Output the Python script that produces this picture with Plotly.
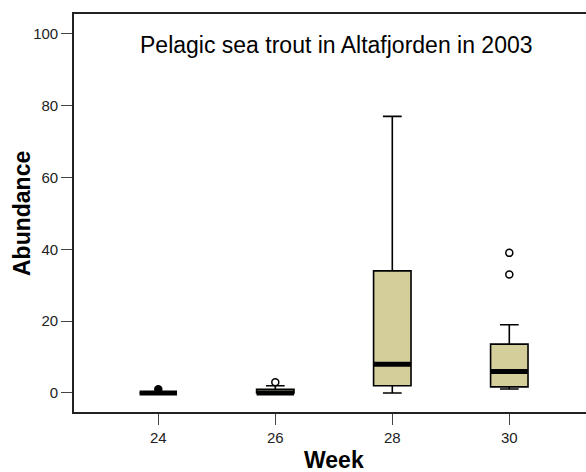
import plotly.graph_objects as go

# ---- data ----
weeks = [24, 26, 28, 30]
q1 = [0, 0, 2, 1.7]
median = [0, 0, 8, 6]
q3 = [0, 1, 34, 13.6]
lower_whisker = [0, 0, 0, 1.1]
upper_whisker = [0, 2, 77, 19]

outlier_weeks = [24, 26, 30, 30]
outlier_values = [1, 3, 33, 39]
outlier_symbols = ["circle", "circle-open", "circle-open", "circle-open"]

y_ticks = [0, 20, 40, 60, 80, 100]
title_text = "Pelagic sea trout in Altafjorden in 2003"
x_title = "Week"
y_title = "Abundance"

# ---- styling ----
FONT = "Liberation Sans, Arial, sans-serif"
FILL = "#D3CE9A"
BOX_W = 0.64

W, H = 600, 472
ML, MR, MT, MB = 74, 0, 14, 60
PW, PH = W - ML - MR, H - MT - MB
PX_PER_WEEK = 58.5
X0_PX = 158.3
x_range = [weeks[0] - (X0_PX - ML) / PX_PER_WEEK, weeks[0] + (W - X0_PX) / PX_PER_WEEK]

def px_to_paper_x(px):
    return (px - ML) / PW

def px_to_paper_y(py):
    return (H - MB - py) / PH

fig = go.Figure()
fig.add_trace(go.Box(
    x=weeks, q1=q1, median=median, q3=q3,
    lowerfence=lower_whisker, upperfence=upper_whisker,
    width=BOX_W, whiskerwidth=0.5,
    fillcolor=FILL, line=dict(color="black", width=1.6),
    boxpoints=False, showlegend=False, hoverinfo="skip",
))
mx, my = [], []
for w, m in zip(weeks, median):
    mx += [w - BOX_W / 2, w + BOX_W / 2, None]
    my += [m, m, None]
fig.add_trace(go.Scatter(x=mx, y=my, mode="lines", line=dict(color="black", width=5),
                         showlegend=False, hoverinfo="skip"))
fig.add_trace(go.Scatter(
    x=outlier_weeks, y=outlier_values, mode="markers",
    marker=dict(symbol=outlier_symbols, size=7, color="black", line=dict(width=1.5, color="black")),
    showlegend=False, hoverinfo="skip",
))

fig.update_layout(
    width=W, height=H,
    margin=dict(l=ML, r=MR, t=MT, b=MB, pad=0),
    paper_bgcolor="white", plot_bgcolor="white",
    font=dict(family=FONT, color="#222222", size=15),
    xaxis=dict(range=x_range, tickvals=weeks, ticktext=[str(w) for w in weeks],
               showline=True, linecolor="#222222", linewidth=1.6, mirror=True,
               ticks="outside", ticklen=11, tickcolor="#444444",
               showgrid=False, zeroline=False,
               tickfont=dict(size=15, family=FONT, color="#222222")),
    yaxis=dict(range=[-5.3, 105.5], tickvals=y_ticks,
               showline=True, linecolor="#222222", linewidth=1.6, mirror=False,
               ticks="outside", ticklen=11, tickcolor="#444444",
               showgrid=False, zeroline=False,
               tickfont=dict(size=15, family=FONT, color="#222222")),
    annotations=[
        dict(text=title_text, xref="paper", yref="paper",
             x=px_to_paper_x(336.5), y=px_to_paper_y(45.3),
             xanchor="center", yanchor="middle", showarrow=False,
             font=dict(size=23, family=FONT, color="black")),
        dict(text="<b>" + x_title + "</b>", xref="paper", yref="paper",
             x=px_to_paper_x(334), y=px_to_paper_y(460),
             xanchor="center", yanchor="middle", showarrow=False,
             font=dict(size=23, family=FONT, color="black")),
        dict(text="<b>" + y_title + "</b>", xref="paper", yref="paper",
             x=px_to_paper_x(22), y=px_to_paper_y(214),
             xanchor="center", yanchor="middle", showarrow=False, textangle=-90,
             font=dict(size=23, family=FONT, color="black")),
    ],
)

fig.write_html(
    "out.html",
    config={"displayModeBar": False},
    post_script="document.body.style.margin='0';document.body.style.overflow='hidden';",
)
